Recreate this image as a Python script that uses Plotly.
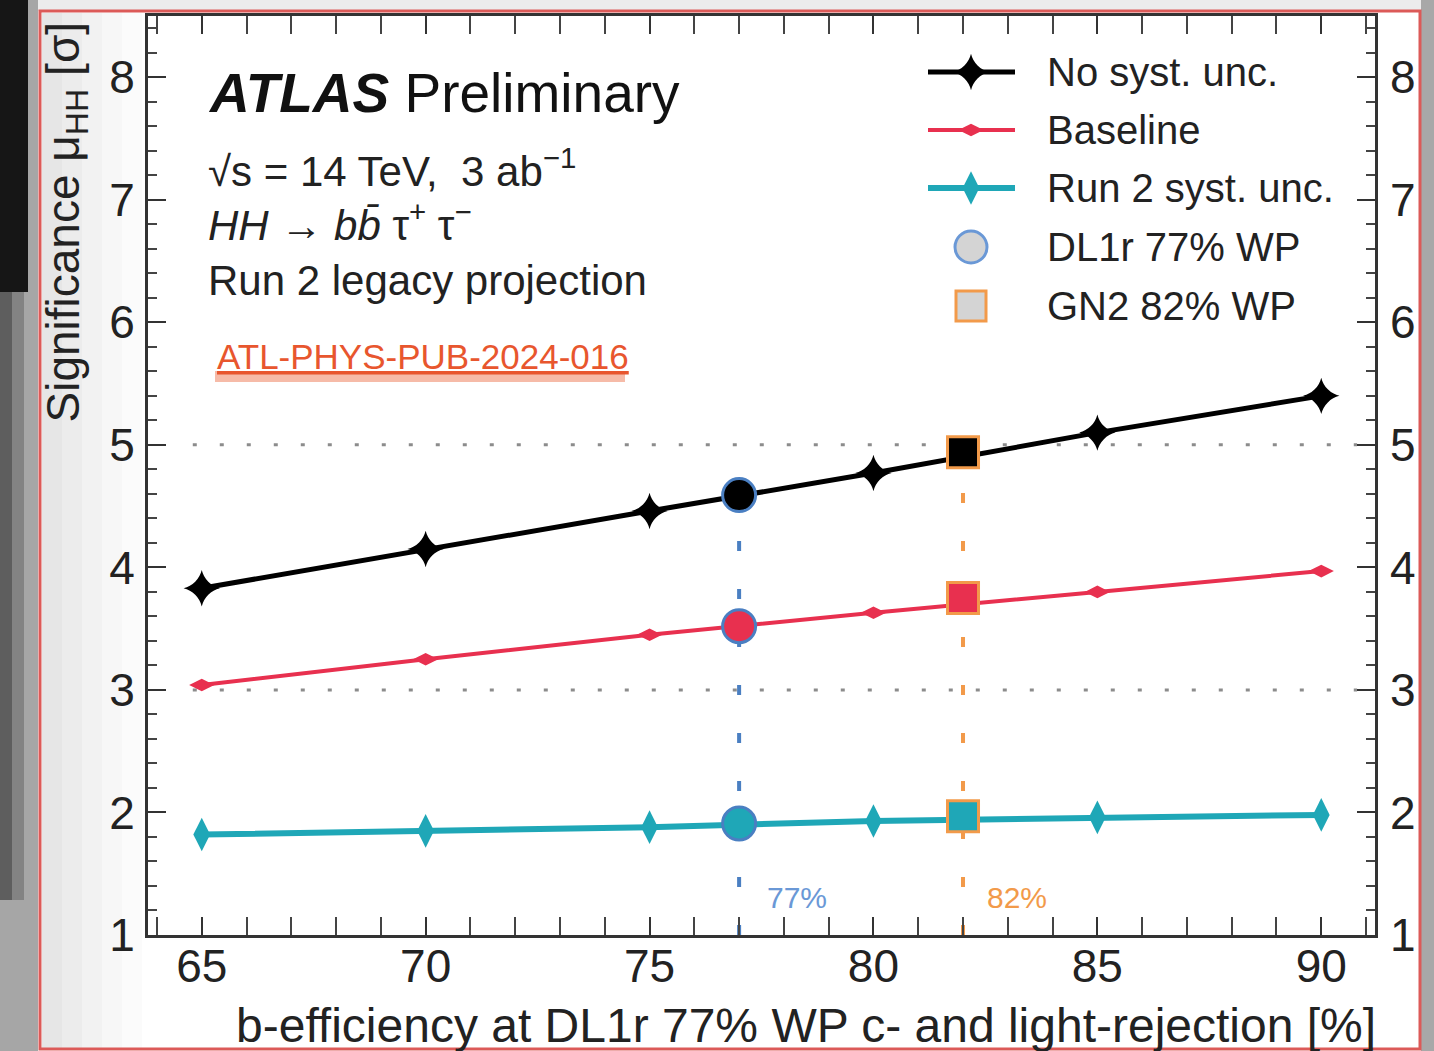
import plotly.graph_objects as go

# ---- data -------------------------------------------------------------
b_eff = [65, 70, 75, 80, 85, 90]
sig_no_syst = [3.83, 4.15, 4.46, 4.77, 5.10, 5.40]
sig_baseline = [3.04, 3.25, 3.45, 3.63, 3.80, 3.97]
sig_run2_syst = [1.82, 1.85, 1.88, 1.93, 1.96, 1.98]

# working points: DL1r 77% and GN2 82%
wp_dl1r_eff = 77
wp_dl1r_sig = [4.59, 3.52, 1.91]      # no syst / baseline / run2 syst
wp_gn2_eff = 82
wp_gn2_sig = [4.94, 3.75, 1.97]

sigma_refs = [3, 5]
x_ticks = [65, 70, 75, 80, 85, 90]
y_ticks = [1, 2, 3, 4, 5, 6, 7, 8]

series_names = ["No syst. unc.", "Baseline", "Run 2 syst. unc."]
wp_names = ["DL1r 77% WP", "GN2 82% WP"]

# ---- styling ----------------------------------------------------------
W, H = 1434, 1051
FONT = "Arial, Liberation Sans, Helvetica, sans-serif"
C_BLACK = "#000000"
C_RED = "#e8304f"
C_CYAN = "#1fa7b7"
C_BLUE = "#4a7fc2"
C_ORANGE = "#f29a4a"
series_colors = [C_BLACK, C_RED, C_CYAN]
series_symbols = ["star-diamond", "diamond-wide", "diamond-tall"]
series_msize = [26, 18, 24]
series_width = [5, 4, 6]


def px(x):
    return x / W


def py(y):
    return 1 - y / H


fig = go.Figure()

# vertical working-point markers (dashed lines up to the top curve)
fig.add_trace(go.Scatter(x=[wp_dl1r_eff, wp_dl1r_eff], y=[1, wp_dl1r_sig[0]],
                         mode="lines", line=dict(color=C_BLUE, width=4, dash="10px,38px"),
                         showlegend=False, hoverinfo="skip"))
fig.add_trace(go.Scatter(x=[wp_gn2_eff, wp_gn2_eff], y=[1, wp_gn2_sig[0]],
                         mode="lines", line=dict(color=C_ORANGE, width=4, dash="10px,38px"),
                         showlegend=False, hoverinfo="skip"))

all_series = [sig_no_syst, sig_baseline, sig_run2_syst]
for vals, name, col, sym, ms, lw in zip(all_series, series_names, series_colors,
                                         series_symbols, series_msize, series_width):
    fig.add_trace(go.Scatter(x=b_eff, y=vals, name=name, mode="lines+markers",
                             line=dict(color=col, width=lw),
                             marker=dict(symbol=sym, size=ms, color=col),
                             showlegend=False))

# working-point points on each curve
for i, col in enumerate(series_colors):
    fig.add_trace(go.Scatter(x=[wp_dl1r_eff], y=[wp_dl1r_sig[i]], mode="markers",
                             marker=dict(symbol="circle", size=33, color=col,
                                         line=dict(color=C_BLUE, width=3)),
                             showlegend=False, name=wp_names[0]))
    fig.add_trace(go.Scatter(x=[wp_gn2_eff], y=[wp_gn2_sig[i]], mode="markers",
                             marker=dict(symbol="square", size=31, color=col,
                                         line=dict(color=C_ORANGE, width=3)),
                             showlegend=False, name=wp_names[1]))

# right-hand axis labels
fig.add_trace(go.Scatter(x=[b_eff[0]], y=[sig_no_syst[0]], yaxis="y2", mode="markers",
                         marker=dict(opacity=0), showlegend=False, hoverinfo="skip"))

# ---- hand-drawn legend on a full-page overlay --------------------------
leg_rows = [72, 130, 188, 247, 306]
for i in range(3):
    fig.add_trace(go.Scatter(x=[928, 1015], y=[leg_rows[i], leg_rows[i]], xaxis="x3", yaxis="y3",
                             mode="lines", line=dict(color=series_colors[i], width=series_width[i]),
                             showlegend=False, hoverinfo="skip"))
    fig.add_trace(go.Scatter(x=[971], y=[leg_rows[i]], xaxis="x3", yaxis="y3", mode="markers",
                             marker=dict(symbol=series_symbols[i], size=series_msize[i],
                                         color=series_colors[i]),
                             showlegend=False, hoverinfo="skip"))
fig.add_trace(go.Scatter(x=[971], y=[leg_rows[3]], xaxis="x3", yaxis="y3", mode="markers",
                         marker=dict(symbol="circle", size=32, color="#d4d4d4",
                                     line=dict(color="#6a98d6", width=3)),
                         showlegend=False, hoverinfo="skip"))
fig.add_trace(go.Scatter(x=[971], y=[leg_rows[4]], xaxis="x3", yaxis="y3", mode="markers",
                         marker=dict(symbol="square", size=30, color="#d4d4d4",
                                     line=dict(color=C_ORANGE, width=3)),
                         showlegend=False, hoverinfo="skip"))

annotations = []
for row, label in zip(leg_rows, series_names + wp_names):
    annotations.append(dict(x=px(1045), y=py(row), xref="paper", yref="paper",
                            text=label, showarrow=False, xanchor="left", yanchor="middle",
                            font=dict(family=FONT, size=40, color="#222")))

# ---- text blocks -------------------------------------------------------
annotations += [
    dict(x=px(206), y=py(93), text="<b><i>ATLAS</i></b> Preliminary",
         font=dict(family=FONT, size=55, color="#111")),
    dict(x=px(206), y=py(168), text="√s = 14 TeV,  3 ab<sup>−1</sup>",
         font=dict(family=FONT, size=42, color="#222")),
    dict(x=px(206), y=py(222), text="<i>HH</i> → <i>b</i><i>b̄</i> τ<sup>+</sup> τ<sup>−</sup>",
         font=dict(family=FONT, size=42, color="#222")),
    dict(x=px(206), y=py(280), text="Run 2 legacy projection",
         font=dict(family=FONT, size=42, color="#222")),
    dict(x=px(215), y=py(356), text="<u>ATL-PHYS-PUB-2024-016</u>",
         font=dict(family=FONT, size=35, color="#e8562e")),
    dict(x=px(765), y=py(897), text="77%", font=dict(family=FONT, size=30, color="#6a98d6")),
    dict(x=px(985), y=py(897), text="82%", font=dict(family=FONT, size=30, color=C_ORANGE)),
]
for a in annotations:
    a.setdefault("xref", "paper")
    a.setdefault("yref", "paper")
    a.setdefault("showarrow", False)
    a.setdefault("xanchor", "left")
    a.setdefault("yanchor", "middle")

# axis titles
annotations.append(dict(x=px(1378), y=py(1025), xref="paper", yref="paper", showarrow=False,
                        text="b-efficiency at DL1r 77% WP c- and light-rejection [%]",
                        xanchor="right", yanchor="middle",
                        font=dict(family=FONT, size=48, color="#222")))
annotations.append(dict(x=px(66), y=py(20), xref="paper", yref="paper", showarrow=False,
                        text="Significance μ<sub>HH</sub> [σ]", textangle=-90,
                        xanchor="center", yanchor="top",
                        font=dict(family=FONT, size=46, color="#222")))

# ---- page decoration: slide background and red frame --------------------
shapes = []


def rect(x0, y0, x1, y1, fill, layer="below"):
    shapes.append(dict(type="rect", xref="paper", yref="paper", x0=px(x0), x1=px(x1),
                       y0=py(y1), y1=py(y0), fillcolor=fill, line=dict(width=0), layer=layer))


rect(38, 0, W, 11, "#ececec")
rect(0, 0, 38, H, "#a6a6a6")
rect(0, 290, 12, 900, "#5e5e5e")
rect(12, 290, 24, 900, "#838383")
rect(0, 0, 28, 292, "#161616")
rect(1421, 0, W, H, "#a8a8a8", layer="above")
# soft gray panel left of the axes
for i, c in enumerate(["#e6e6e6", "#ececec", "#f2f2f2", "#f7f7f7", "#fbfbfb"]):
    rect(42 + i * 20, 13, 62 + i * 20, 1048, c)
# link highlight bar
rect(215, 371, 625, 382, "#f6bba8")
# red frame
shapes.append(dict(type="rect", xref="paper", yref="paper", x0=px(40), x1=px(1420),
                   y0=py(1049), y1=py(11), line=dict(color="#dc5a58", width=3),
                   fillcolor="rgba(0,0,0,0)", layer="above"))

# 3 sigma / 5 sigma reference lines
for s in sigma_refs:
    shapes.append(dict(type="line", xref="x", yref="y", x0=64.8, x1=90.8, y0=s, y1=s,
                       line=dict(color="#8c8c8c", width=3, dash="4px,23px"), layer="below"))

tickfont = dict(family=FONT, size=46, color="#222")
fig.update_layout(
    width=W, height=H,
    margin=dict(l=0, r=0, t=0, b=0),
    paper_bgcolor="white", plot_bgcolor="rgba(0,0,0,0)",
    showlegend=False,
    annotations=annotations,
    shapes=shapes,
    xaxis=dict(domain=[px(148), px(1375)], range=[63.8, 91.2], anchor="y",
               tickvals=x_ticks, ticks="inside", ticklen=18, tickwidth=2, tickcolor="#333",
               minor=dict(ticks="inside", ticklen=9, dtick=1, tickwidth=2, tickcolor="#444"),
               mirror="allticks", showline=True, linecolor="#333", linewidth=3,
               showgrid=False, zeroline=False, tickfont=tickfont, automargin=False,
               ticklabelstandoff=-11),
    yaxis=dict(domain=[py(935), py(16)], range=[1, 8.5], anchor="x",
               tickvals=y_ticks, ticks="inside", ticklen=18, tickwidth=2, tickcolor="#333",
               minor=dict(ticks="inside", ticklen=9, dtick=0.2, tickwidth=2, tickcolor="#444"),
               mirror="allticks", showline=True, linecolor="#333", linewidth=3,
               showgrid=False, zeroline=False, tickfont=tickfont, automargin=False,
               ticklabelstandoff=1),
    yaxis2=dict(overlaying="y", side="right", anchor="x", range=[1, 8.5], tickvals=y_ticks,
                showgrid=False, zeroline=False, showline=False, ticks="",
                tickfont=tickfont, automargin=False, ticklabelstandoff=14),
    xaxis3=dict(domain=[0, 1], range=[0, W], anchor="y3", visible=False, fixedrange=True),
    yaxis3=dict(domain=[0, 1], range=[H, 0], anchor="x3", visible=False, fixedrange=True),
)

fig.write_html("out.html")
